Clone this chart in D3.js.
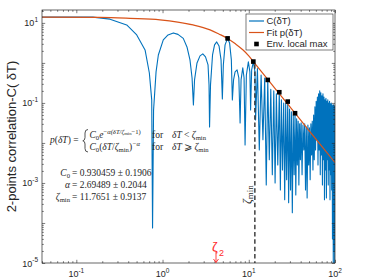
<!DOCTYPE html>
<meta charset="utf-8">
<script src="https://d3js.org/d3.v7.min.js"></script>
<style>
  body { margin: 0; background: #fff; }
  svg { display: block; }
  text { font-family: "Liberation Sans", Arial, sans-serif; fill: #262626; }
  .tex { font-family: "Liberation Serif", "Times New Roman", serif; }
</style>
<div id="chart"></div>
<script>

// C(dT): smooth start and the first big arches [dT, C]
var corrLeft = [
  [0.04, 13.9], [0.156, 13.9], [0.246, 12.4], [0.384, 8.9], [0.502, 5.0], [0.627, 2.11],
  [0.703, 0.56], [0.749, 0.119], [0.766, 7.5e-5],
  [0.787, 0.067], [0.841, 0.596], [0.894, 1.58], [1.02, 3.76], [1.158, 5.0], [1.335, 5.62],
  [1.51, 5.16], [1.74, 4.1], [1.92, 2.51], [2.08, 1.19], [2.2, 0.42], [2.28, 0.089],
  [2.35, 0.376], [2.51, 1.0], [2.72, 1.5], [2.93, 1.68], [3.15, 1.41], [3.37, 0.89], [3.46, 0.282], [3.51, 0.025],
  [3.6, 0.282], [3.8, 1.58], [4.01, 2.82], [4.25, 3.35], [4.52, 2.66], [4.77, 1.19], [4.94, 0.126],
  [5.07, 0.89], [5.31, 2.82], [5.68, 4.1], [5.99, 3.16], [6.28, 1.19], [6.45, 0.119],
  [6.66, 0.376], [6.94, 0.596], [7.32, 0.668], [7.67, 0.42], [7.93, 0.0316],
  [8.14, 0.376], [8.52, 0.75], [8.82, 0.42], [9.06, 0.0089],
  [9.38, 0.5], [9.89, 1.06], [10.3, 0.596], [10.5, 0.067],
  [10.8, 0.668], [11.3, 1.08], [11.8, 0.6], [12.0, 0.0376]
];

// C(dT): dense oscillating part, peaks and dips [dT, C]
var corrDense = [
  [12.6, 0.72], [13.25, 0.0067], [13.9, 0.5], [14.6, 0.012], [15.3, 0.42], [15.95, 0.00089],
  [16.6, 0.376], [17.3, 0.0038], [18.0, 0.22], [18.75, 0.0016], [19.5, 0.2], [20.2, 0.001],
  [20.9, 0.17], [21.7, 0.0028], [22.6, 0.185], [23.25, 0.00067], [23.9, 0.12], [24.6, 0.0021],
  [25.4, 0.1], [26.1, 0.00038], [26.8, 0.095], [27.5, 0.0012], [28.3, 0.108], [29.0, 0.00032],
  [29.7, 0.07], [30.5, 0.00067], [31.2, 0.06], [32.0, 0.00018], [32.8, 0.05], [33.6, 0.0016],
  [34.4, 0.0553], [35.1, 0.0005], [35.9, 0.04], [36.6, 0.0028], [37.4, 0.035], [38.1, 0.00089],
  [38.9, 0.03], [39.7, 0.0038], [40.5, 0.032], [41.5, 0.0016], [42.5, 0.028], [43.5, 0.0067],
  [44.5, 0.03], [45.5, 0.00067], [46.5, 0.025], [47.5, 0.00042], [48.5, 0.028], [49.5, 0.0028],
  [50.5, 0.024], [51.5, 0.0012], [52.5, 0.03], [53.5, 0.005], [54.5, 0.035], [55.5, 0.0021],
  [56.5, 0.05], [57.5, 0.0038], [58.5, 0.08], [59.5, 0.0067], [60.5, 0.11], [61.5, 0.012],
  [62.5, 0.14], [63.5, 0.0028], [64.5, 0.17], [65.5, 0.0067], [66.5, 0.2], [67.5, 0.0016],
  [68.5, 0.18], [69.5, 0.005], [70.5, 0.15], [71.5, 0.00089], [72.5, 0.17], [73.5, 0.0038],
  [74.5, 0.14], [75.5, 0.00038], [76.5, 0.12], [77.5, 0.0021], [78.5, 0.13], [79.5, 0.00042],
  [80.5, 0.11], [81.5, 0.0038], [82.5, 0.12], [83.5, 0.00089], [84.5, 0.1], [85.5, 0.0021],
  [86.5, 0.11], [87.5, 0.00038], [88.5, 0.095], [89.5, 0.0016], [90.5, 0.1], [91.5, 0.00067],
  [92.5, 0.09], [93.5, 0.00004], [94.5, 0.085], [95.5, 0.00001], [96.5, 0.09], [97.5, 0.00002],
  [98.5, 0.08], [99.3, 0.00001], [100, 0.085]
];

// fit p(dT)
var fitCurve = [
  [0.04, 13.9], [0.188, 13.7], [0.42, 12.96], [0.935, 11.9], [1.5, 10.5], [2.26, 8.9],
  [3.56, 6.7], [4.5, 5.3], [5.68, 4.1], [7.0, 3.0], [8.59, 2.1], [10.0, 1.5], [11.3, 1.08],
  [20, 0.235], [40, 0.037], [70, 0.0083], [100, 0.00323]
];

// envelope local maxima
var envT = [5.68, 11.3, 16.6, 22.6, 28.3, 34.4];
var envC = [4.1, 1.08, 0.376, 0.185, 0.108, 0.0553];

var zetaMin = 11.7651;
var C0 = 0.930459;
var xLabelExp = [-1, 0, 1, 2];
var yLabelExp = [-5, -3, -1, 1];
var legendLabels = ["C(\u03b4T)", "Fit p(\u03b4T)", "Env. local max"];

var blue = "#0072BD", orange = "#D95319", ink = "#262626";

var width = 374, height = 280;
var margin = { top: 10, right: 39, bottom: 17, left: 42 };
var x0 = margin.left, x1 = width - margin.right, y0 = margin.top, y1 = height - margin.bottom;

var svg = d3.select("#chart").append("svg")
    .attr("width", width)
    .attr("height", height);

var x = d3.scaleLog().domain([0.04, 100]).range([x0, x1]);
var y = d3.scaleLog().domain([1e-5, 21]).range([y1, y0]);

svg.append("clipPath").attr("id", "clip")
  .append("rect").attr("x", x0).attr("y", y0).attr("width", x1 - x0).attr("height", y1 - y0);

var plot = svg.append("g").attr("clip-path", "url(#clip)");

// C(dT)
var line = d3.line().x(function (d) { return x(d[0]); }).y(function (d) { return y(d[1]); });
plot.append("path")
    .attr("d", line(corrLeft.concat(corrDense)))
    .attr("fill", "none").attr("stroke", blue).attr("stroke-width", 1.1)
    .attr("stroke-linejoin", "round");

// fit
plot.append("path")
    .attr("d", line.curve(d3.curveMonotoneX)(fitCurve))
    .attr("fill", "none").attr("stroke", orange).attr("stroke-width", 1.2);

// zeta_min dashed line
plot.append("line")
    .attr("x1", x(zetaMin)).attr("x2", x(zetaMin))
    .attr("y1", y(C0)).attr("y2", y1)
    .attr("stroke", "#333").attr("stroke-width", 1.4).attr("stroke-dasharray", "4.5,2.8");

// envelope markers
plot.selectAll(".env").data(envT).enter().append("rect")
    .attr("x", function (d) { return x(d) - 2.3; })
    .attr("y", function (d, i) { return y(envC[i]) - 2.3; })
    .attr("width", 4.6).attr("height", 4.6).attr("fill", "#000");

// axes: inward ticks on all four sides
var xMajor = xLabelExp.map(function (e) { return Math.pow(10, e); });
var xMinor = x.ticks().filter(function (v) { return xMajor.indexOf(v) < 0; });
var yMajor = d3.range(-5, 2).map(function (e) { return Math.pow(10, e); });
var yMinor = y.ticks().filter(function (v) { return yMajor.indexOf(v) < 0; });

function addAxis(gen, scale, vals, size, tx, ty) {
  var g = svg.append("g").attr("transform", "translate(" + tx + "," + ty + ")")
      .call(gen(scale).tickValues(vals).tickSize(size).tickFormat(""));
  g.select(".domain").remove();
  g.selectAll("line").attr("stroke", ink).attr("stroke-width", 0.6);
}
addAxis(d3.axisBottom, x, xMajor, -3.2, 0, y1);
addAxis(d3.axisBottom, x, xMinor, -1.8, 0, y1);
addAxis(d3.axisTop, x, xMajor, -3.2, 0, y0);
addAxis(d3.axisTop, x, xMinor, -1.8, 0, y0);
addAxis(d3.axisLeft, y, yMajor, -3.2, x0, 0);
addAxis(d3.axisLeft, y, yMinor, -1.8, x0, 0);
addAxis(d3.axisRight, y, yMajor, -3.2, x1, 0);
addAxis(d3.axisRight, y, yMinor, -1.8, x1, 0);

svg.append("rect")
    .attr("x", x0).attr("y", y0).attr("width", x1 - x0).attr("height", y1 - y0)
    .attr("fill", "none").attr("stroke", ink).attr("stroke-width", 0.7);

// tick labels 10^n
svg.selectAll(".xlab").data(xLabelExp).enter().append("text")
    .attr("x", function (d) { return x(Math.pow(10, d)); })
    .attr("y", 277).attr("text-anchor", "middle").attr("font-size", 9)
    .each(function (d) {
      var t = d3.select(this);
      t.append("tspan").text("10");
      t.append("tspan").attr("font-size", 6.5).attr("dy", -4.5).text(d);
    });

svg.selectAll(".ylab").data(yLabelExp).enter().append("text")
    .attr("x", 38)
    .attr("y", function (d) { return y(Math.pow(10, d)) + 3.5; })
    .attr("text-anchor", "end").attr("font-size", 9)
    .each(function (d) {
      var t = d3.select(this);
      t.append("tspan").text("10");
      t.append("tspan").attr("font-size", 6.5).attr("dy", -4.5).text(d);
    });

svg.append("text")
    .attr("transform", "translate(15.5," + ((y0 + y1) / 2) + ") rotate(-90)")
    .attr("text-anchor", "middle").attr("font-size", 13)
    .text("2-points correlation-C( \u03b4T)");

// legend
var lg = svg.append("g");
lg.append("rect").attr("x", 246).attr("y", 14).attr("width", 87).attr("height", 36)
    .attr("fill", "#fff").attr("stroke", ink).attr("stroke-width", 0.6);
var rowY = [21, 32.5, 44];
lg.append("line").attr("x1", 249).attr("x2", 264).attr("y1", rowY[0]).attr("y2", rowY[0])
    .attr("stroke", blue).attr("stroke-width", 1.2);
lg.append("line").attr("x1", 249).attr("x2", 264).attr("y1", rowY[1]).attr("y2", rowY[1])
    .attr("stroke", orange).attr("stroke-width", 1.2);
lg.append("rect").attr("x", 256.5 - 2.3).attr("y", rowY[2] - 2.3).attr("width", 4.6).attr("height", 4.6)
    .attr("fill", "#000");
lg.selectAll(".lt").data(legendLabels).enter().append("text")
    .attr("x", 266.5).attr("y", function (d, i) { return rowY[i] + 3.3; })
    .attr("font-size", 9.5).text(function (d) { return d; });

// LaTeX-like annotations; shifts use dy so the text stays one anchored chunk
function mathText(px, py, parts, size, anchor) {
  var t = svg.append("text").attr("class", "tex").attr("x", px).attr("y", py)
      .attr("font-size", size).attr("text-anchor", anchor || "start");
  var cur = 0;
  parts.forEach(function (p) {
    var s = t.append("tspan").text(p[0]);
    var k = p[1] || "";
    var off = 0, fs = size;
    if (k === "i" || k === "pi") s.attr("font-style", "italic");
    if (k === "b") { off = 2.3; fs = size * 0.7; }
    else if (k === "p" || k === "pi") { off = -3.8; fs = size * 0.7; }
    else if (k === "pb") { off = -2.6; fs = size * 0.5; }
    s.attr("font-size", fs).attr("dy", off - cur);
    cur = off;
  });
  return t;
}

mathText(50, 143, [["p", "i"], ["(", ""], ["\u03b4T", "i"], [") =", ""]], 9.5);
// curly brace of the piecewise definition
svg.append("path")
    .attr("d", "M88,129.5 Q85,129.5 85,133 L85,137.5 Q85,140.5 82.8,140.8 Q85,141.1 85,144 L85,148.5 Q85,152 88,152")
    .attr("fill", "none").attr("stroke", ink).attr("stroke-width", 0.8);
mathText(89.5, 137.5, [["C", "i"], ["0", "b"], ["e", "i"], ["\u2212", "p"], ["\u03b1(\u03b4T/\u03b6", "pi"],
    ["min", "pb"], ["\u22121)", "p"]], 9.5);
mathText(89.5, 149.5, [["C", "i"], ["0", "b"], ["(", ""], ["\u03b4T", "i"], ["/", ""], ["\u03b6", "i"],
    ["min", "b"], [")", ""], ["\u2212\u03b1", "pi"]], 9.5);
mathText(152, 137.5, [["for", ""]], 9.5);
mathText(152, 149.5, [["for", ""]], 9.5);
mathText(172, 137.5, [["\u03b4T", "i"], [" < ", ""], ["\u03b6", "i"], ["min", "b"]], 9.5);
mathText(172, 149.5, [["\u03b4T", "i"], [" \u2a7e ", ""], ["\u03b6", "i"], ["min", "b"]], 9.5);

var paramRows = [
  { name: [["C", "i"], ["0", "b"]], value: "= 0.930459 \u00b1 0.1906" },
  { name: [["\u03b1", "i"]], value: "= 2.69489 \u00b1 0.2044" },
  { name: [["\u03b6", "i"], ["min", "b"]], value: "= 11.7651 \u00b1 0.9137" }
];
paramRows.forEach(function (r, i) {
  var py = 175.5 + i * 12;
  mathText(70, py, r.name, 9.5, "end");
  mathText(72, py, [[r.value, ""]], 9.5);
});

// zeta_min label next to the dashed line
svg.append("text").attr("class", "tex")
    .attr("transform", "translate(250.5,204) rotate(-90)")
    .attr("font-size", 12)
    .call(function (t) {
      t.append("tspan").attr("font-style", "italic").text("\u03b6");
      t.append("tspan").attr("font-size", 9).attr("dy", 2).text("min");
    });

// red hand annotation
var red = "#ff2a2a";
svg.append("text").attr("x", 212).attr("y", 251).attr("font-size", 13)
    .style("fill", red).text("\u03b6");
svg.append("text").attr("x", 219).attr("y", 256).attr("font-size", 9)
    .style("fill", red).text("2");
svg.append("path")
    .attr("d", "M216,252 L216,262.5 M213.5,259 L216,262.5 L218.5,259")
    .attr("fill", "none").attr("stroke", red).attr("stroke-width", 0.9);

</script>
